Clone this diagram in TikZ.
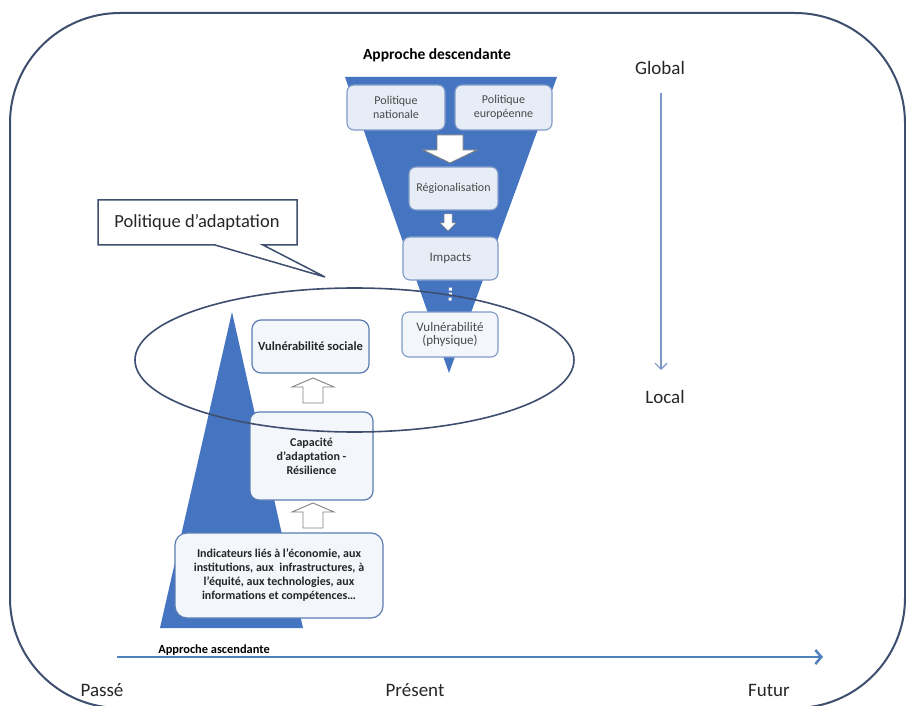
\documentclass[tikz,border=0pt]{standalone}
\usepackage{fontspec}
\setmainfont{Carlito}
\usetikzlibrary{arrows.meta,calc}
\definecolor{triblue}{HTML}{4574C0}
\definecolor{frameblue}{HTML}{3E4E6E}
\definecolor{boxedge}{HTML}{5B7DB3}
\definecolor{topedge}{HTML}{7F9BC8}
\definecolor{boxfill}{HTML}{E6EDF6}
\definecolor{lowfill}{HTML}{F3F6FB}
\definecolor{axisblue}{HTML}{4F81BD}
\definecolor{vblue}{HTML}{7C98C4}
\definecolor{txtgray}{HTML}{4A4A4A}
\definecolor{txtdark}{HTML}{262626}
\definecolor{arrgray}{HTML}{808080}
\tikzset{
  topbox/.style={draw=topedge, fill=boxfill, line width=1.1pt, rounded corners=7pt,
    align=center, text=txtgray, inner sep=2pt, font=\fontsize{12}{13.5}\selectfont},
  lowbox/.style={draw=boxedge, fill=lowfill, line width=1.2pt, rounded corners=9pt,
    align=center, text=txtdark, inner sep=2pt, font=\bfseries\fontsize{12}{14}\selectfont},
  biglabel/.style={text=txtdark, inner sep=0pt, font=\fontsize{19}{22}\selectfont},
  blockarr/.style={fill=white, draw=arrgray, line width=0.9pt, line join=miter},
  bigdown/.pic={\path[blockarr] (-13,0)--(13,0)--(13,15)--(27,15)--(0,28)--(-27,15)--(-13,15)--cycle;},
  smalldown/.pic={\path[blockarr, line width=0.5pt] (-4,0)--(4,0)--(4,9)--(8,9)--(0,17)--(-8,9)--(-4,9)--cycle;},
  upblk/.pic={\path[blockarr] (0,0)--(21,9)--(10,9)--(10,25)--(-10,25)--(-10,9)--(-21,9)--cycle;}
}
\begin{document}
\begin{tikzpicture}[x=1pt,y=-1pt]
\useasboundingbox (0,0) rectangle (906,706);
\clip (0,0) rectangle (906,706);
\fill[white] (0,0) rectangle (906,706);

% outer frame
\draw[frameblue, line width=2pt, rounded corners=110pt] (10,13) rectangle (905,708);

% triangles
\fill[triblue] (345,77) -- (557,77) -- (449,373) -- cycle;
\fill[triblue] (232,312) -- (303,628) -- (160,628) -- cycle;

% top-down boxes
\node[topbox, minimum width=98, minimum height=45] (pn) at (396,107.5) {Politique\\nationale};
\node[topbox, minimum width=97, minimum height=45] (pe) at (503.5,107.5) {Politique\\européenne};
\node[topbox, minimum width=89, minimum height=43] (reg) at (453.5,188.5) {Régionalisation};
\node[topbox, minimum width=95, minimum height=43, font=\fontsize{13}{14}\selectfont] (imp) at (450.5,258.5) {Impacts};
\node[topbox, minimum width=96, minimum height=45, fill=lowfill, font=\fontsize{13}{13.5}\selectfont] (vph) at (450,334.5) {Vulnérabilité\\(physique)};

\pic at (450,135) {bigdown};
\pic at (448,214) {smalldown};
\draw[white, line width=3pt, dash pattern=on 3pt off 2pt] (imp.south) ++(0,7) coordinate (da) (da) -- ($(vph.north)+(0,-9)$) coordinate (db);

% bottom-up boxes
\node[lowbox, minimum width=117, minimum height=53, font=\bfseries\fontsize{12.5}{14}\selectfont] (vs) at (310.5,346.5) {Vulnérabilité sociale};
\node[lowbox, minimum width=123, minimum height=88, font=\bfseries\fontsize{12}{14}\selectfont] (cap) at (311.5,456) {Capacité\\d’adaptation -\\Résilience};
\node[lowbox, minimum width=208, minimum height=85, rounded corners=12pt] (ind) at (279,575.5)
  {Indicateurs liés à l’économie, aux\\institutions, aux \ infrastructures, à\\l’équité, aux technologies, aux\\informations et compétences…};
\pic at (313,378) {upblk};
\pic at (313,503) {upblk};

% ellipse
\draw[frameblue, line width=1.6pt] (354.5,360) ellipse [x radius=219.5, y radius=72];

% callout
\draw[fill=white, draw=frameblue, line width=1.5pt, line join=miter]
  (98,200) -- (297,200) -- (297,245) -- (263,245) -- (325,277) -- (215,245) -- (98,245) -- cycle;
\node[text=txtdark, inner sep=0pt, font=\fontsize{18.5}{20}\selectfont] (pol) at (197,222) {Politique d’adaptation};

% titles
\node[text=black, inner sep=0pt, font=\bfseries\fontsize{15.5}{17}\selectfont] (desc) at (437,55) {Approche descendante};
\node[text=black, inner sep=0pt, font=\bfseries\fontsize{12.4}{14}\selectfont] (asc) at (214,650) {Approche ascendante};

% global / local
\node[biglabel] (glob) at (660,68) {Global};
\node[biglabel] (loc) at (665,397) {Local};
\coordinate (va) at (661,93);
\coordinate (vb) at (661,370);
\draw[vblue, line width=1.1pt, -{Straight Barb[length=6pt,width=12pt]}] (va) -- (vb);

% time axis
\coordinate (ta) at (117,657);
\coordinate (tb) at (823,657);
\draw[axisblue, line width=2.5pt, -{Straight Barb[length=6pt,width=14pt]}] (ta) -- (tb);
\node[biglabel] (passe) at (102,690) {Passé};
\node[biglabel] (present) at (415,690) {Présent};
\node[biglabel] (futur) at (769,690) {Futur};
\end{tikzpicture}
\end{document}
